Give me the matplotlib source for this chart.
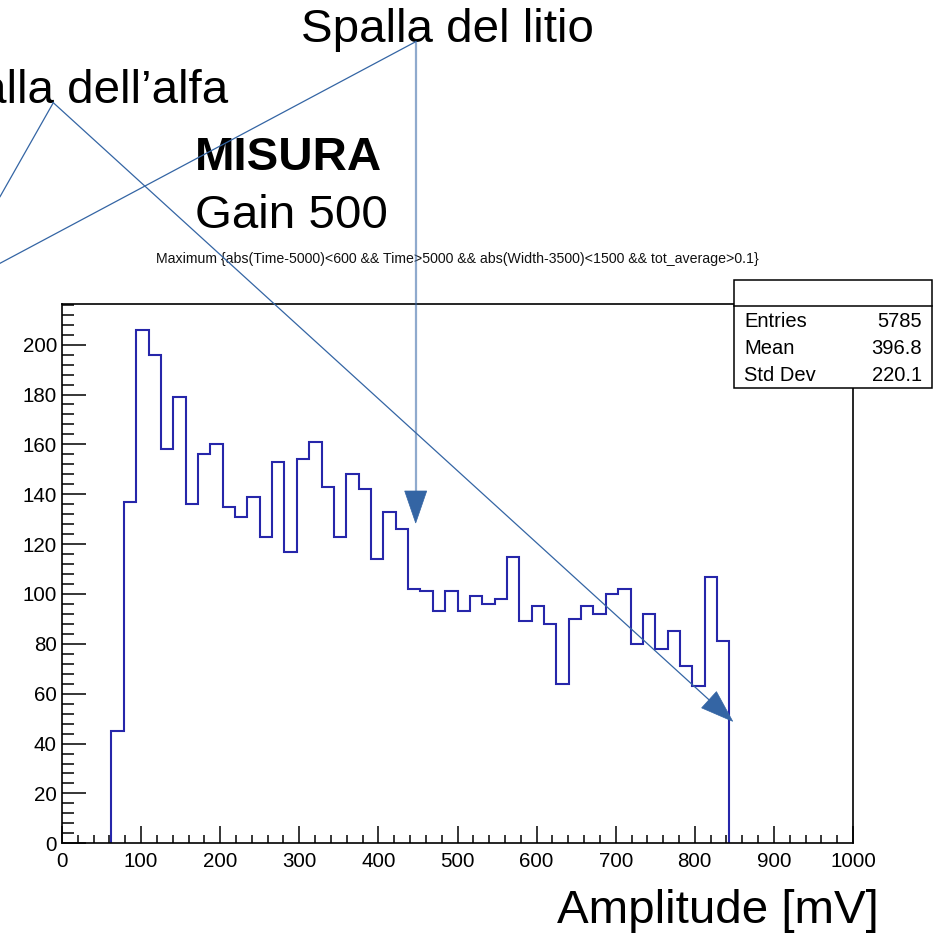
import numpy as np
import matplotlib
matplotlib.use("Agg")
import matplotlib.pyplot as plt
from matplotlib.transforms import Affine2D
from matplotlib.patches import Rectangle, Polygon
from matplotlib.lines import Line2D
from matplotlib.ticker import MultipleLocator

plt.rcParams['font.family'] = ['Liberation Sans', 'DejaVu Sans']

# Histogram: 64 bins over 0-1000 mV
x_min, x_max, n_bins = 0.0, 1000.0, 64
counts = [0, 0, 0, 0,
          45, 137, 206, 196, 158, 179, 136, 156, 160, 135,
          131, 139, 123, 153, 117, 154, 161, 143, 123, 148,
          142, 114, 133, 126, 102, 101, 93, 101, 93, 99,
          96, 98, 115, 89, 95, 88, 64, 90, 95, 92,
          100, 102, 80, 92, 78, 85, 71, 63, 107, 81,
          0, 0, 0, 0, 0, 0, 0, 0, 0, 0]

title = "Maximum {abs(Time-5000)<600 && Time>5000 && abs(Width-3500)<1500 && tot_average>0.1}"
stat_names = ["Entries", "Mean", "Std Dev"]
stat_values = ["5785", "396.8", "220.1"]
x_label = "Amplitude [mV]"

W, H = 943, 936
fig = plt.figure(figsize=(W / 100, H / 100), dpi=100)
# pixel coordinates measured from the top-left corner of the canvas
px = Affine2D().scale(1 / W, -1 / H).translate(0, 1) + fig.transFigure

ax = fig.add_axes([62 / W, 1 - 843.3 / H, (853 - 62) / W, (843.3 - 304) / H])

counts = np.asarray(counts, dtype=float)
edges = np.linspace(x_min, x_max, n_bins + 1)
nz = np.nonzero(counts)[0]
lo, hi = nz[0], nz[-1] + 1
ax.stairs(counts[lo:hi], edges[lo:hi + 1], baseline=0, color="#2626aa",
          lw=1.5, zorder=2)

ax.set_xlim(x_min, x_max)
ax.set_ylim(0, 1.05 * counts.max())

ax.xaxis.set_major_locator(MultipleLocator(100))
ax.xaxis.set_minor_locator(MultipleLocator(20))
ax.yaxis.set_major_locator(MultipleLocator(20))
ax.yaxis.set_minor_locator(MultipleLocator(4))
ax.tick_params(axis="both", which="both", direction="in", width=1.1,
               top=False, right=False, labelsize=14.8, colors="black")
ax.tick_params(axis="x", which="major", length=11.9, pad=6)
ax.tick_params(axis="x", which="minor", length=5.9)
ax.tick_params(axis="y", which="major", length=17, pad=3.6)
ax.tick_params(axis="y", which="minor", length=8.5)
for sp in ax.spines.values():
    sp.set_linewidth(1.2)
    sp.set_zorder(3)

# histogram title
fig.text(457.5, 263, title, transform=px, ha="center", va="baseline",
         fontsize=10.2, color="#111111")

# statistics box
box_l, box_r, box_t, box_m, box_b = 734.3, 932.3, 280, 306, 388.3
fig.add_artist(Rectangle((box_l, box_t), box_r - box_l, box_b - box_t,
                         transform=px, facecolor="white", edgecolor="black",
                         lw=1.1, zorder=5))
fig.add_artist(Line2D([box_l, box_r], [box_m, box_m], transform=px,
                      color="black", lw=1.1, zorder=6))
for i, (name, val) in enumerate(zip(stat_names, stat_values)):
    yc = 321.7 + i * 27.0
    fig.text(744, yc, name, transform=px, ha="left", va="center",
             fontsize=14.5, zorder=7)
    fig.text(922, yc, val, transform=px, ha="right", va="center",
             fontsize=14.5, zorder=7)

# overlay captions
big = 34.2
fig.text(300.7, 41.7, "Spalla del litio", transform=px, ha="left",
         va="baseline", fontsize=big)
fig.text(228, 103, "Spalla dell\u2019alfa", transform=px, ha="right",
         va="baseline", fontsize=big)
fig.text(195, 170, "MISURA", transform=px, ha="left", va="baseline",
         fontsize=big, fontweight="bold")
fig.text(195, 228.3, "Gain 500", transform=px, ha="left", va="baseline",
         fontsize=big)
fig.text(556.7, 923.3, x_label, transform=px, ha="left", va="baseline",
         fontsize=big)

# pointer lines and arrowheads
arrow_col = "#3465a4"


def seg(p0, p1, **kw):
    fig.add_artist(Line2D([p0[0], p1[0]], [p0[1], p1[1]], transform=px,
                          color=arrow_col, zorder=8, **kw))


def head(tip, frm, length=32.0, width=22.0):
    tip = np.asarray(tip, float)
    d = tip - np.asarray(frm, float)
    d /= np.hypot(*d)
    n = np.array([-d[1], d[0]])
    base = tip - d * length
    pts = [tip, base + n * width / 2, base - n * width / 2]
    fig.add_artist(Polygon(pts, closed=True, transform=px,
                           facecolor=arrow_col, edgecolor=arrow_col,
                           lw=0.5, zorder=9))


litio = (415.7, 41.7)
alfa = (53.3, 102.7)
seg(litio, (0, 263.3), lw=0.9)
seg(litio, (415.7, 500), lw=1.6, alpha=0.55)
head((415.7, 523), litio)
seg(alfa, (0, 196.7), lw=0.9)
seg(alfa, (718, 708), lw=0.9)
head((732.7, 721.3), alfa)

fig.savefig("out.png", dpi=100, facecolor="white")
